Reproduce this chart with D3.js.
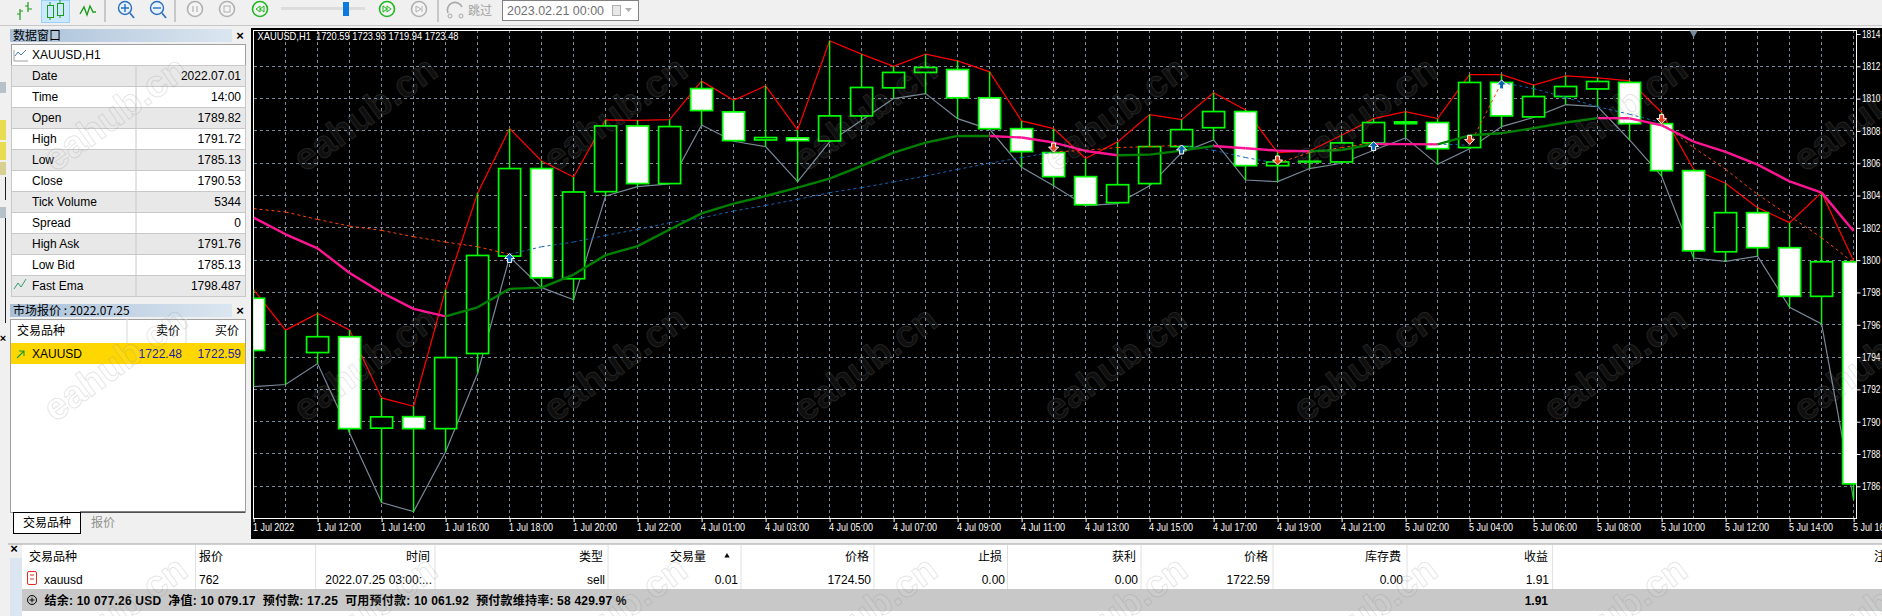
<!DOCTYPE html>
<html>
<head>
<meta charset="utf-8">
<script src="https://cdn.jsdelivr.net/npm/d3@7"></script>
<style>
html, body { margin: 0; padding: 0; background: #fff; overflow: hidden; }
svg { display: block; }
text { font-family: "Liberation Sans", "Noto Sans CJK SC", sans-serif; }
.cjk { font-family: "Noto Sans CJK SC", "Liberation Sans", sans-serif; }
</style>
</head>
<body>
<svg id="chart" width="1882" height="616"></svg>
<script>
// candles
var opens = [1797.64,1794.47,1794.28,1795.26,1789.6,1790.31,1789.57,1794.22,1800.25,1805.67,1798.85,1804.24,1808.31,1804.74,1810.62,1809.18,1807.44,1807.57,1807.38,1808.93,1810.67,1811.62,1811.8,1810.05,1808.14,1806.66,1805.17,1803.56,1804.74,1807.03,1808.2,1809.2,1805.85,1806.12,1806.08,1807.26,1808.56,1808.52,1806.97,1811,1808.87,1810.13,1810.6,1811,1808.45,1805.54,1800.52,1802.94,1800.77,1797.76,1799.9];
var highs = [1798.18,1795.67,1796.7,1795.67,1791.47,1790.95,1798.18,1804.14,1808.14,1806.14,1805.15,1808.68,1808.66,1808.7,1811.08,1809.9,1810.79,1808.06,1813.58,1812.75,1812,1812.75,1812.34,1811.66,1808.62,1808.14,1806.29,1807.32,1809.01,1808.7,1810.36,1809.3,1806.66,1806.76,1807.73,1808.76,1809.2,1808.76,1811.49,1811.49,1810.83,1811.41,1811.29,1811.1,1809.14,1805.62,1804.76,1803.25,1802.32,1804.18,1799.96];
var lows = [1792.17,1792.3,1793.6,1789.3,1785,1784.43,1788.14,1793,1800.2,1798.3,1797.55,1803.97,1804.55,1804.72,1808.37,1807.36,1807.03,1804.86,1807.32,1808.66,1810,1810.31,1808.76,1808.1,1805.75,1804.6,1803.37,1803.5,1804.6,1806.66,1807.44,1804.96,1804.86,1805.67,1806,1806.8,1807.57,1805.93,1806.9,1808.27,1808.83,1809.63,1809.5,1807.44,1805.2,1800.13,1799.92,1800.25,1797.08,1796.05,1785.18];
var closes = [1794.41,1794.47,1795.26,1789.57,1790.3,1789.57,1793.97,1800.29,1805.67,1798.91,1804.22,1808.31,1804.74,1808.27,1809.26,1807.4,1807.59,1807.4,1808.93,1810.69,1811.62,1811.93,1810.05,1808.14,1806.72,1805.17,1803.43,1804.67,1807.03,1808.08,1809.2,1805.85,1806.08,1806.08,1807.26,1808.52,1808.45,1806.9,1811,1808.93,1810.13,1810.75,1811.06,1808.45,1805.54,1800.58,1802.94,1800.77,1797.76,1799.9,1786.15];
// fast ema (thick) and slow ema (dotted)
var fastEma = [1802.63,1801.6,1800.73,1799.2,1798,1796.98,1796.52,1797.08,1798.22,1798.3,1799.11,1800.31,1800.87,1801.9,1802.9,1803.5,1803.97,1804.49,1805.05,1805.83,1806.66,1807.28,1807.69,1807.69,1807.59,1807.28,1806.76,1806.49,1806.53,1806.78,1807.07,1806.93,1806.78,1806.74,1806.82,1807.19,1807.18,1807.17,1807.73,1807.86,1808.17,1808.52,1808.79,1808.78,1808.35,1807.34,1806.7,1805.91,1804.88,1804.18,1801.8];
var slowEma = [1803.19,1802.98,1802.52,1802.11,1801.84,1801.45,1801.12,1800.83,1800.36,1800.83,1801.12,1801.53,1801.9,1802.32,1802.61,1803.04,1803.39,1803.76,1804.18,1804.49,1804.84,1805.21,1805.62,1806,1806.35,1806.7,1806.8,1806.97,1807.03,1807.11,1806.8,1806.35,1806,1806.66,1806.97,1807.28,1807.19,1807.19,1807.11,1811,1810.62,1810.07,1809.5,1809.03,1808.52,1806.97,1805.62,1804.07,1802.73,1801.39,1799.84];
// buy / sell arrows
var signalBars = [8,25,29,32,35,38,39,44];
var signalDirs = ["up","down","up","down","up","down","up","down"];
var signalPrices = [1800.1,1807,1806.82,1806.2,1807.03,1807.48,1810.85,1808.76];

var priceTicks = [1814,1812,1810,1808,1806,1804,1802,1800,1798,1796,1794,1792,1790,1788,1786];
var timeLabels = ["1 Jul 2022","1 Jul 12:00","1 Jul 14:00","1 Jul 16:00","1 Jul 18:00","1 Jul 20:00","1 Jul 22:00","4 Jul 01:00","4 Jul 03:00","4 Jul 05:00","4 Jul 07:00","4 Jul 09:00","4 Jul 11:00","4 Jul 13:00","4 Jul 15:00","4 Jul 17:00","4 Jul 19:00","4 Jul 21:00","5 Jul 02:00","5 Jul 04:00","5 Jul 06:00","5 Jul 08:00","5 Jul 10:00","5 Jul 12:00","5 Jul 14:00","5 Jul 16:00"];

var dataLabels = ["Date","Time","Open","High","Low","Close","Tick Volume","Spread","High Ask","Low Bid","Fast Ema"];
var dataValues = ["2022.07.01","14:00","1789.82","1791.72","1785.13","1790.53","5344","0","1791.76","1785.13","1798.487"];

var tradeHeaders = ["交易品种","报价","时间","类型","交易量","价格","止损","获利","价格","库存费","收益"];
var tradeRow = ["xauusd","762","2022.07.25 03:00:...","sell","0.01","1724.50","0.00","0.00","1722.59","0.00","1.91"];
var tradeColEdges = [195.5,315.6,435,608,741,874,1007.5,1141,1273,1407,1552.6];
var summary = "结余: 10 077.26 USD\u00a0\u00a0净值: 10 079.17\u00a0\u00a0预付款: 17.25\u00a0\u00a0可用预付款: 10 061.92\u00a0\u00a0预付款维持率: 58 429.97 %";

var plotLeft = 253.5, plotRight = 1856.5, plotTop = 30, plotBottom = 518;
var barWidth = 22;

var x = d3.scaleLinear().domain([0, opens.length - 1]).range([253.6, 1853.6]);
var y = d3.scaleLinear().domain([1786, 1814]).range([486.3, 34]);
var bars = d3.range(opens.length);

var svg = d3.select("#chart");

window.onload = function(){
  drawWindow();
  drawChart();
  drawDataWindow();
  drawMarketWatch();
  drawTerminal();
  drawToolbar();
  drawWatermarks();
}

function label(g, px, py, str, size, color, anchor, weight){
  return g.append("text")
    .attr("x", px).attr("y", py)
    .attr("font-size", size)
    .attr("fill", color || "#000")
    .attr("text-anchor", anchor || "start")
    .attr("font-weight", weight || "normal")
    .text(str);
}

function box(g, bx, by, w, h, fill, stroke){
  return g.append("rect")
    .attr("x", bx).attr("y", by).attr("width", w).attr("height", h)
    .attr("fill", fill).attr("stroke", stroke || "none")
    .attr("shape-rendering", "crispEdges");
}

function drawWindow(){
  box(svg, 0, 0, 1882, 616, "#f0f0f0");
  box(svg, 251, 28, 1631, 511, "#000");
  // bits of docked windows showing at the far left
  box(svg, 0, 82, 6, 11, "#b8c0c8");
  box(svg, 0, 120, 6, 20, "#e8dc50");
  box(svg, 0, 142, 6, 18, "#e8dc50");
  box(svg, 0, 162, 6, 13, "#d8d090");
  box(svg, 5, 177, 1, 23, "#202020");
  box(svg, 0, 207, 6, 11, "#b8c0c8");
  box(svg, 5, 218, 1, 105, "#202020");
  label(svg, 3, 342, "×", 11, "#000", "middle", "bold");
}

function drawChart(){
  var g = svg.append("g");
  svg.append("clipPath").attr("id", "plot").append("rect")
    .attr("x", plotLeft).attr("y", plotTop)
    .attr("width", plotRight - plotLeft).attr("height", plotBottom - plotTop);

  // grid
  var grid = g.append("g")
    .attr("stroke", "#778899").attr("stroke-dasharray", "3,3")
    .attr("shape-rendering", "crispEdges").attr("stroke-width", 1);
  grid.selectAll("line.v").data(bars).enter().append("line")
    .attr("x1", function(d){ return x(d); }).attr("x2", function(d){ return x(d); })
    .attr("y1", plotTop).attr("y2", plotBottom);
  grid.selectAll("line.h").data(priceTicks.slice(1)).enter().append("line")
    .attr("x1", plotLeft).attr("x2", plotRight)
    .attr("y1", function(d){ return y(d); }).attr("y2", function(d){ return y(d); });

  // axes
  var xAxis = d3.axisBottom(x)
    .tickValues(timeLabels.map(function(d, i){ return i * 2; }))
    .tickFormat(function(d){ return timeLabels[d / 2]; })
    .tickSize(4).tickPadding(2);
  var xg = g.append("g").attr("transform", "translate(0," + plotBottom + ")").call(xAxis);
  var yAxis = d3.axisRight(y).tickValues(priceTicks).tickFormat(d3.format("d")).tickSize(4).tickPadding(1.5);
  var yg = g.append("g").attr("transform", "translate(" + plotRight + ",0)").call(yAxis);
  [xg, yg].forEach(function(a){
    a.selectAll("text").attr("fill", "#fff").attr("font-size", 10.5).attr("font-family", "Liberation Sans");
    a.selectAll("line").attr("stroke", "#fff");
    a.select(".domain").attr("stroke", "none");
  });
  xg.selectAll("text").attr("text-anchor", "start").attr("dx", "-1")
    .attr("textLength", function(d){ return d == 0 ? 41 : 44; }).attr("lengthAdjust", "spacingAndGlyphs");
  yg.selectAll("text").attr("textLength", 18.5).attr("lengthAdjust", "spacingAndGlyphs");

  // frame
  g.append("rect").attr("x", plotLeft).attr("y", plotTop)
    .attr("width", plotRight - plotLeft).attr("height", plotBottom - plotTop)
    .attr("fill", "none").attr("stroke", "#fff").attr("shape-rendering", "crispEdges");

  // separator marker at the top
  g.append("path").attr("d", d3.symbol(d3.symbolTriangle, 30))
    .attr("transform", "translate(" + x(45) + "," + (plotTop + 3) + ") rotate(180)")
    .attr("fill", "#778899");

  var clip = g.append("g").attr("clip-path", "url(#plot)");

  // high and low envelopes
  var line = d3.line().x(function(d){ return x(d.i); }).y(function(d){ return y(d.v); });
  clip.append("path").attr("d", line(highs.map(function(v, i){ return {i: i, v: v}; })))
    .attr("fill", "none").attr("stroke", "#ff0000").attr("stroke-width", 1.25);
  clip.append("path").attr("d", line(lows.map(function(v, i){ return {i: i, v: v}; })))
    .attr("fill", "none").attr("stroke", "#778899").attr("stroke-width", 1.2);

  // candles
  clip.selectAll("line.wick").data(bars).enter().append("line")
    .attr("class", "wick")
    .attr("x1", function(d){ return x(d); }).attr("x2", function(d){ return x(d); })
    .attr("y1", function(d){ return y(highs[d]); }).attr("y2", function(d){ return y(lows[d]); })
    .attr("stroke", "#00ff00").attr("stroke-width", 1.4);
  clip.selectAll("rect.body").data(bars).enter().append("rect")
    .attr("class", "body")
    .attr("x", function(d){ return x(d) - barWidth / 2; })
    .attr("width", barWidth)
    .attr("y", function(d){ return y(Math.max(opens[d], closes[d])); })
    .attr("height", function(d){ return Math.abs(y(opens[d]) - y(closes[d])); })
    .attr("fill", function(d){ return closes[d] >= opens[d] ? "#000" : "#fff"; })
    .attr("stroke", "#00ff00").attr("stroke-width", 1.7);

  // slow ema, colour flips at every arrow
  var slowSegs = bars.slice(0, -1).map(function(i){
    var state = "down";
    signalBars.forEach(function(b, k){ if (b <= i) state = signalDirs[k]; });
    return {i: i, state: state};
  });
  clip.selectAll("path.slow").data(slowSegs).enter().append("path")
    .attr("class", "slow")
    .attr("d", function(d){ return line([{i: d.i, v: slowEma[d.i]}, {i: d.i + 1, v: slowEma[d.i + 1]}]); })
    .attr("fill", "none").attr("stroke-dasharray", "3,3")
    .attr("stroke", function(d){ return d.state == "up" ? "#1464b4" : "#ff4500"; });

  // fast ema, green rising, pink falling
  clip.selectAll("path.fast").data(bars.slice(0, -1)).enter().append("path")
    .attr("class", "fast")
    .attr("d", function(i){ return line([{i: i, v: fastEma[i]}, {i: i + 1, v: fastEma[i + 1]}]); })
    .attr("fill", "none").attr("stroke-width", 2.4)
    .attr("stroke", function(i){ return fastEma[i + 1] < fastEma[i] ? "#ff1493" : "#008000"; });

  // arrows
  clip.selectAll("path.signal").data(signalBars).enter().append("path")
    .attr("class", "signal")
    .attr("d", "M0,-5L5,0L2,0L2,4L-2,4L-2,0L-5,0Z")
    .attr("transform", function(d, k){
      var up = signalDirs[k] == "up";
      return "translate(" + x(d) + "," + y(signalPrices[k]) + ")" + (up ? "" : " scale(1,-1)");
    })
    .attr("fill", function(d, k){ return signalDirs[k] == "up" ? "#0a64b4" : "#e8401c"; })
    .attr("stroke", "#fff").attr("stroke-width", 1);

  label(g, 257.5, 40, "XAUUSD,H1\u00a0\u00a01720.59 1723.93 1719.94 1723.48", 10.5, "#fff")
    .attr("textLength", 201).attr("lengthAdjust", "spacingAndGlyphs");
}

function titleBar(g, ty, str){
  var id = "tb" + ty;
  var grad = svg.append("linearGradient").attr("id", id);
  grad.append("stop").attr("offset", "0%").attr("stop-color", "#a9c0d8");
  grad.append("stop").attr("offset", "100%").attr("stop-color", "#dbe6f0");
  box(g, 10, ty, 222, 13, "url(#" + id + ")");
  label(g, 13, ty + 11, str, 12, "#000").attr("class", "cjk");
  label(g, 240, ty + 11, "×", 13, "#000", "middle", "bold");
}

function drawDataWindow(){
  var g = svg.append("g");
  box(g, 8, 27, 241, 273, "#f0f0f0");
  titleBar(g, 29, "数据窗口");
  box(g, 11, 44, 234, 251, "#fff", "#a0a0a0");
  g.append("path").attr("d", "M15,56L18,52L21,55L26,50").attr("fill", "none").attr("stroke", "#4a7fb0");
  g.append("path").attr("d", "M14,50V61H28").attr("fill", "none").attr("stroke", "#a0a0a0");
  label(g, 32, 59, "XAUUSD,H1", 12);

  var rows = g.selectAll("g.row").data(dataLabels).enter().append("g").attr("class", "row")
    .attr("transform", function(d, i){ return "translate(0," + (65 + i * 21) + ")"; });
  rows.append("rect").attr("x", 11).attr("width", 234).attr("height", 21)
    .attr("fill", function(d, i){ return i % 2 ? "#fff" : "#e8e8e8"; })
    .attr("stroke", "#c8c8c8").attr("shape-rendering", "crispEdges");
  rows.append("line").attr("x1", 136).attr("x2", 136).attr("y2", 21).attr("stroke", "#c8c8c8");
  rows.append("text").attr("x", 32).attr("y", 15).attr("font-size", 12).text(function(d){ return d; });
  rows.append("text").attr("x", 241).attr("y", 15).attr("font-size", 12).attr("text-anchor", "end")
    .text(function(d, i){ return dataValues[i]; });
  g.append("path").attr("d", "M14,289L18,283L21,287L26,279").attr("fill", "none").attr("stroke", "#2e9e6a");
}

function drawMarketWatch(){
  var g = svg.append("g");
  box(g, 8, 301, 241, 238, "#f0f0f0");
  titleBar(g, 304, "市场报价 : 2022.07.25");
  box(g, 10, 319, 235, 193, "#fff", "#a0a0a0");
  label(g, 17, 335, "交易品种", 12).attr("class", "cjk");
  label(g, 180, 335, "卖价", 12, "#000", "end").attr("class", "cjk");
  label(g, 239, 335, "买价", 12, "#000", "end").attr("class", "cjk");
  [127, 186].forEach(function(c){
    g.append("line").attr("x1", c).attr("x2", c).attr("y1", 319).attr("y2", 343).attr("stroke", "#d8d8d8");
  });
  box(g, 11, 343, 234, 21, "#ffd700");
  g.append("path").attr("d", "M17,358L24,351M19,351H24V356").attr("fill", "none").attr("stroke", "#1a9a3a").attr("stroke-width", 1.1);
  label(g, 32, 358, "XAUUSD", 12);
  label(g, 182, 358, "1722.48", 12, "#1c1ca8", "end");
  label(g, 241, 358, "1722.59", 12, "#1c1ca8", "end");

  // tabs
  box(g, 13, 512, 67, 21, "#fff", "#000");
  label(g, 47, 527, "交易品种", 12, "#000", "middle").attr("class", "cjk");
  label(g, 103, 527, "报价", 12, "#909090", "middle").attr("class", "cjk");
  g.append("line").attr("x1", 80).attr("x2", 245).attr("y1", 512).attr("y2", 512).attr("stroke", "#000");
}

function drawTerminal(){
  var g = svg.append("g");
  box(g, 0, 539, 1882, 77, "#f0f0f0");
  box(g, 22, 544, 1860, 72, "#fff");
  g.append("line").attr("x1", 8).attr("x2", 1882).attr("y1", 544).attr("y2", 544).attr("stroke", "#a0a0a0");
  box(g, 10, 558, 12, 58, "#dbe6f0");
  label(g, 14, 553, "×", 13, "#000", "middle", "bold");

  var cols = [29, 199, 430, 603, 706, 869, 1002, 1136, 1268, 1401, 1548];
  var rowCols = [44, 199, 432, 605, 738, 871, 1005, 1138, 1270, 1403, 1549];
  g.selectAll("text.head").data(tradeHeaders).enter().append("text")
    .attr("class", "head cjk")
    .attr("x", function(d, i){ return cols[i]; }).attr("y", 561).attr("font-size", 12)
    .attr("text-anchor", function(d, i){ return i < 2 ? "start" : "end"; })
    .text(function(d){ return d; });
  g.selectAll("text.cell").data(tradeRow).enter().append("text")
    .attr("class", "cell")
    .attr("x", function(d, i){ return rowCols[i]; }).attr("y", 584).attr("font-size", 12)
    .attr("text-anchor", function(d, i){ return i < 2 ? "start" : "end"; })
    .text(function(d){ return d; });
  g.selectAll("line.col").data(tradeColEdges).enter().append("line")
    .attr("x1", function(d){ return d; }).attr("x2", function(d){ return d; })
    .attr("y1", 545).attr("y2", 589).attr("stroke", "#e0e0e0");
  label(g, 1874, 561, "注释", 12).attr("class", "cjk");
  g.append("path").attr("d", d3.symbol(d3.symbolTriangle, 12)).attr("transform", "translate(727,556)").attr("fill", "#000");

  // position icon
  g.append("rect").attr("x", 27.5).attr("y", 571.5).attr("width", 9).attr("height", 13).attr("rx", 1.5)
    .attr("fill", "#fff").attr("stroke", "#e03020");
  g.append("path").attr("d", "M30,575H34M30,579H34").attr("stroke", "#e03020");

  // summary
  box(g, 22, 589, 1860, 22, "#c8c8c8");
  g.append("circle").attr("cx", 32).attr("cy", 600).attr("r", 4.5).attr("fill", "none").attr("stroke", "#000");
  g.append("path").attr("d", "M29.5,600H34.5M32,597.5V602.5").attr("stroke", "#000");
  label(g, 44.5, 605, summary, 12, "#000", "start", "bold")
    .attr("textLength", 582).attr("lengthAdjust", "spacing");
  label(g, 1548, 605, "1.91", 12, "#000", "end", "bold");
}

function drawToolbar(){
  var g = svg.append("g");
  box(g, 0, 0, 1882, 25, "#f0f0f0");
  g.append("line").attr("x1", 0).attr("x2", 1882).attr("y1", 25.5).attr("y2", 25.5).attr("stroke", "#c8c8c8");
  box(g, 41, 0, 28, 22, "#cce8ff", "#99d1ff");
  // chart mode icons
  g.append("path").attr("d", "M20,20V9M17,14H20M20,11H23M28,12V2M25,6H28M28,9H32").attr("stroke", "#1a9e1a").attr("fill", "none").attr("stroke-width", 1.2);
  g.append("path").attr("d", "M50,2V20M60,0V18").attr("stroke", "#1a9e1a");
  g.append("rect").attr("x", 47.5).attr("y", 5.5).attr("width", 6).attr("height", 12).attr("fill", "#cce8ff").attr("stroke", "#1a9e1a");
  g.append("rect").attr("x", 57.5).attr("y", 3.5).attr("width", 6).attr("height", 12).attr("fill", "#cce8ff").attr("stroke", "#1a9e1a");
  g.append("path").attr("d", "M80,14L84,7L87,15L90,6L93,12H96").attr("fill", "none").attr("stroke", "#1a9e1a").attr("stroke-width", 1.4);
  [105, 175, 438].forEach(function(s){
    g.append("line").attr("x1", s).attr("x2", s).attr("y1", 0).attr("y2", 22).attr("stroke", "#a0a0a0");
  });
  // zoom icons
  [[125, "M121,8H129M125,4V12"], [157, "M153,8H161"]].forEach(function(z){
    g.append("circle").attr("cx", z[0]).attr("cy", 8).attr("r", 6.5).attr("fill", "#e6f3ff").attr("stroke", "#2a6fc0").attr("stroke-width", 1.4);
    g.append("path").attr("d", z[1]).attr("stroke", "#2a6fc0").attr("stroke-width", 1.4);
    g.append("line").attr("x1", z[0] + 5).attr("y1", 13).attr("x2", z[0] + 9).attr("y2", 18).attr("stroke", "#2a6fc0").attr("stroke-width", 1.6);
  });
  // player buttons
  [[195, "#b0b0b0"], [227, "#b0b0b0"], [260, "#1fb81f"], [387, "#1fb81f"], [419, "#b0b0b0"]].forEach(function(b){
    g.append("circle").attr("cx", b[0]).attr("cy", 9).attr("r", 7.5).attr("fill", "#f4f4f4").attr("stroke", b[1]).attr("stroke-width", 1.6);
  });
  g.append("path").attr("d", "M193,6V12M197,6V12").attr("stroke", "#b0b0b0").attr("stroke-width", 1.2);
  g.append("rect").attr("x", 224).attr("y", 6).attr("width", 6).attr("height", 6).attr("fill", "none").attr("stroke", "#b0b0b0");
  g.append("path").attr("d", "M260,6L256,9L260,12ZM264,6L260,9L264,12Z").attr("fill", "none").attr("stroke", "#1fb81f");
  g.append("path").attr("d", "M383,6L387,9L383,12ZM387,6L391,9L387,12Z").attr("fill", "none").attr("stroke", "#1fb81f");
  g.append("path").attr("d", "M416,6L421,9L416,12ZM422,6V12").attr("fill", "none").attr("stroke", "#b0b0b0");
  box(g, 281, 7, 84, 3, "#dcdcdc");
  box(g, 343, 2, 6, 14, "#0a7ae0");
  // skip
  g.append("path").attr("d", "M448,13A7,7 0 0 1 462,7").attr("fill", "none").attr("stroke", "#a8a8a8").attr("stroke-width", 1.6);
  g.append("circle").attr("cx", 450).attr("cy", 16).attr("r", 2).attr("fill", "none").attr("stroke", "#a8a8a8");
  g.append("circle").attr("cx", 461).attr("cy", 16).attr("r", 2).attr("fill", "none").attr("stroke", "#a8a8a8");
  label(g, 480, 15, "跳过", 12, "#a0a0a0", "middle").attr("class", "cjk");
  // date box
  box(g, 502, 0, 136, 20, "#fff", "#808080");
  label(g, 507, 15, "2023.02.21 00:00", 13, "#707070").attr("textLength", 97).attr("lengthAdjust", "spacingAndGlyphs");
  box(g, 612, 5, 8, 10, "#e8e8e8", "#b0b0b0");
  g.append("path").attr("d", "M625,8H632L628.5,12Z").attr("fill", "#b0b0b0");
}

function drawWatermarks(){
  var xs = d3.range(8).map(function(i){ return 55 + i * 250; });
  var ys = [173, 423, 673];
  var marks = d3.cross(xs, ys);
  svg.append("g").selectAll("text").data(marks).enter().append("text")
    .attr("transform", function(d){ return "translate(" + d[0] + "," + d[1] + ") rotate(-36)"; })
    .attr("font-family", "Liberation Sans").attr("font-size", 38).attr("font-weight", "bold")
    .attr("fill", "rgba(255,255,255,0.08)").attr("stroke", "rgba(130,130,130,0.22)").attr("stroke-width", 1)
    .text("eahub.cn");
}
</script>
</body>
</html>
